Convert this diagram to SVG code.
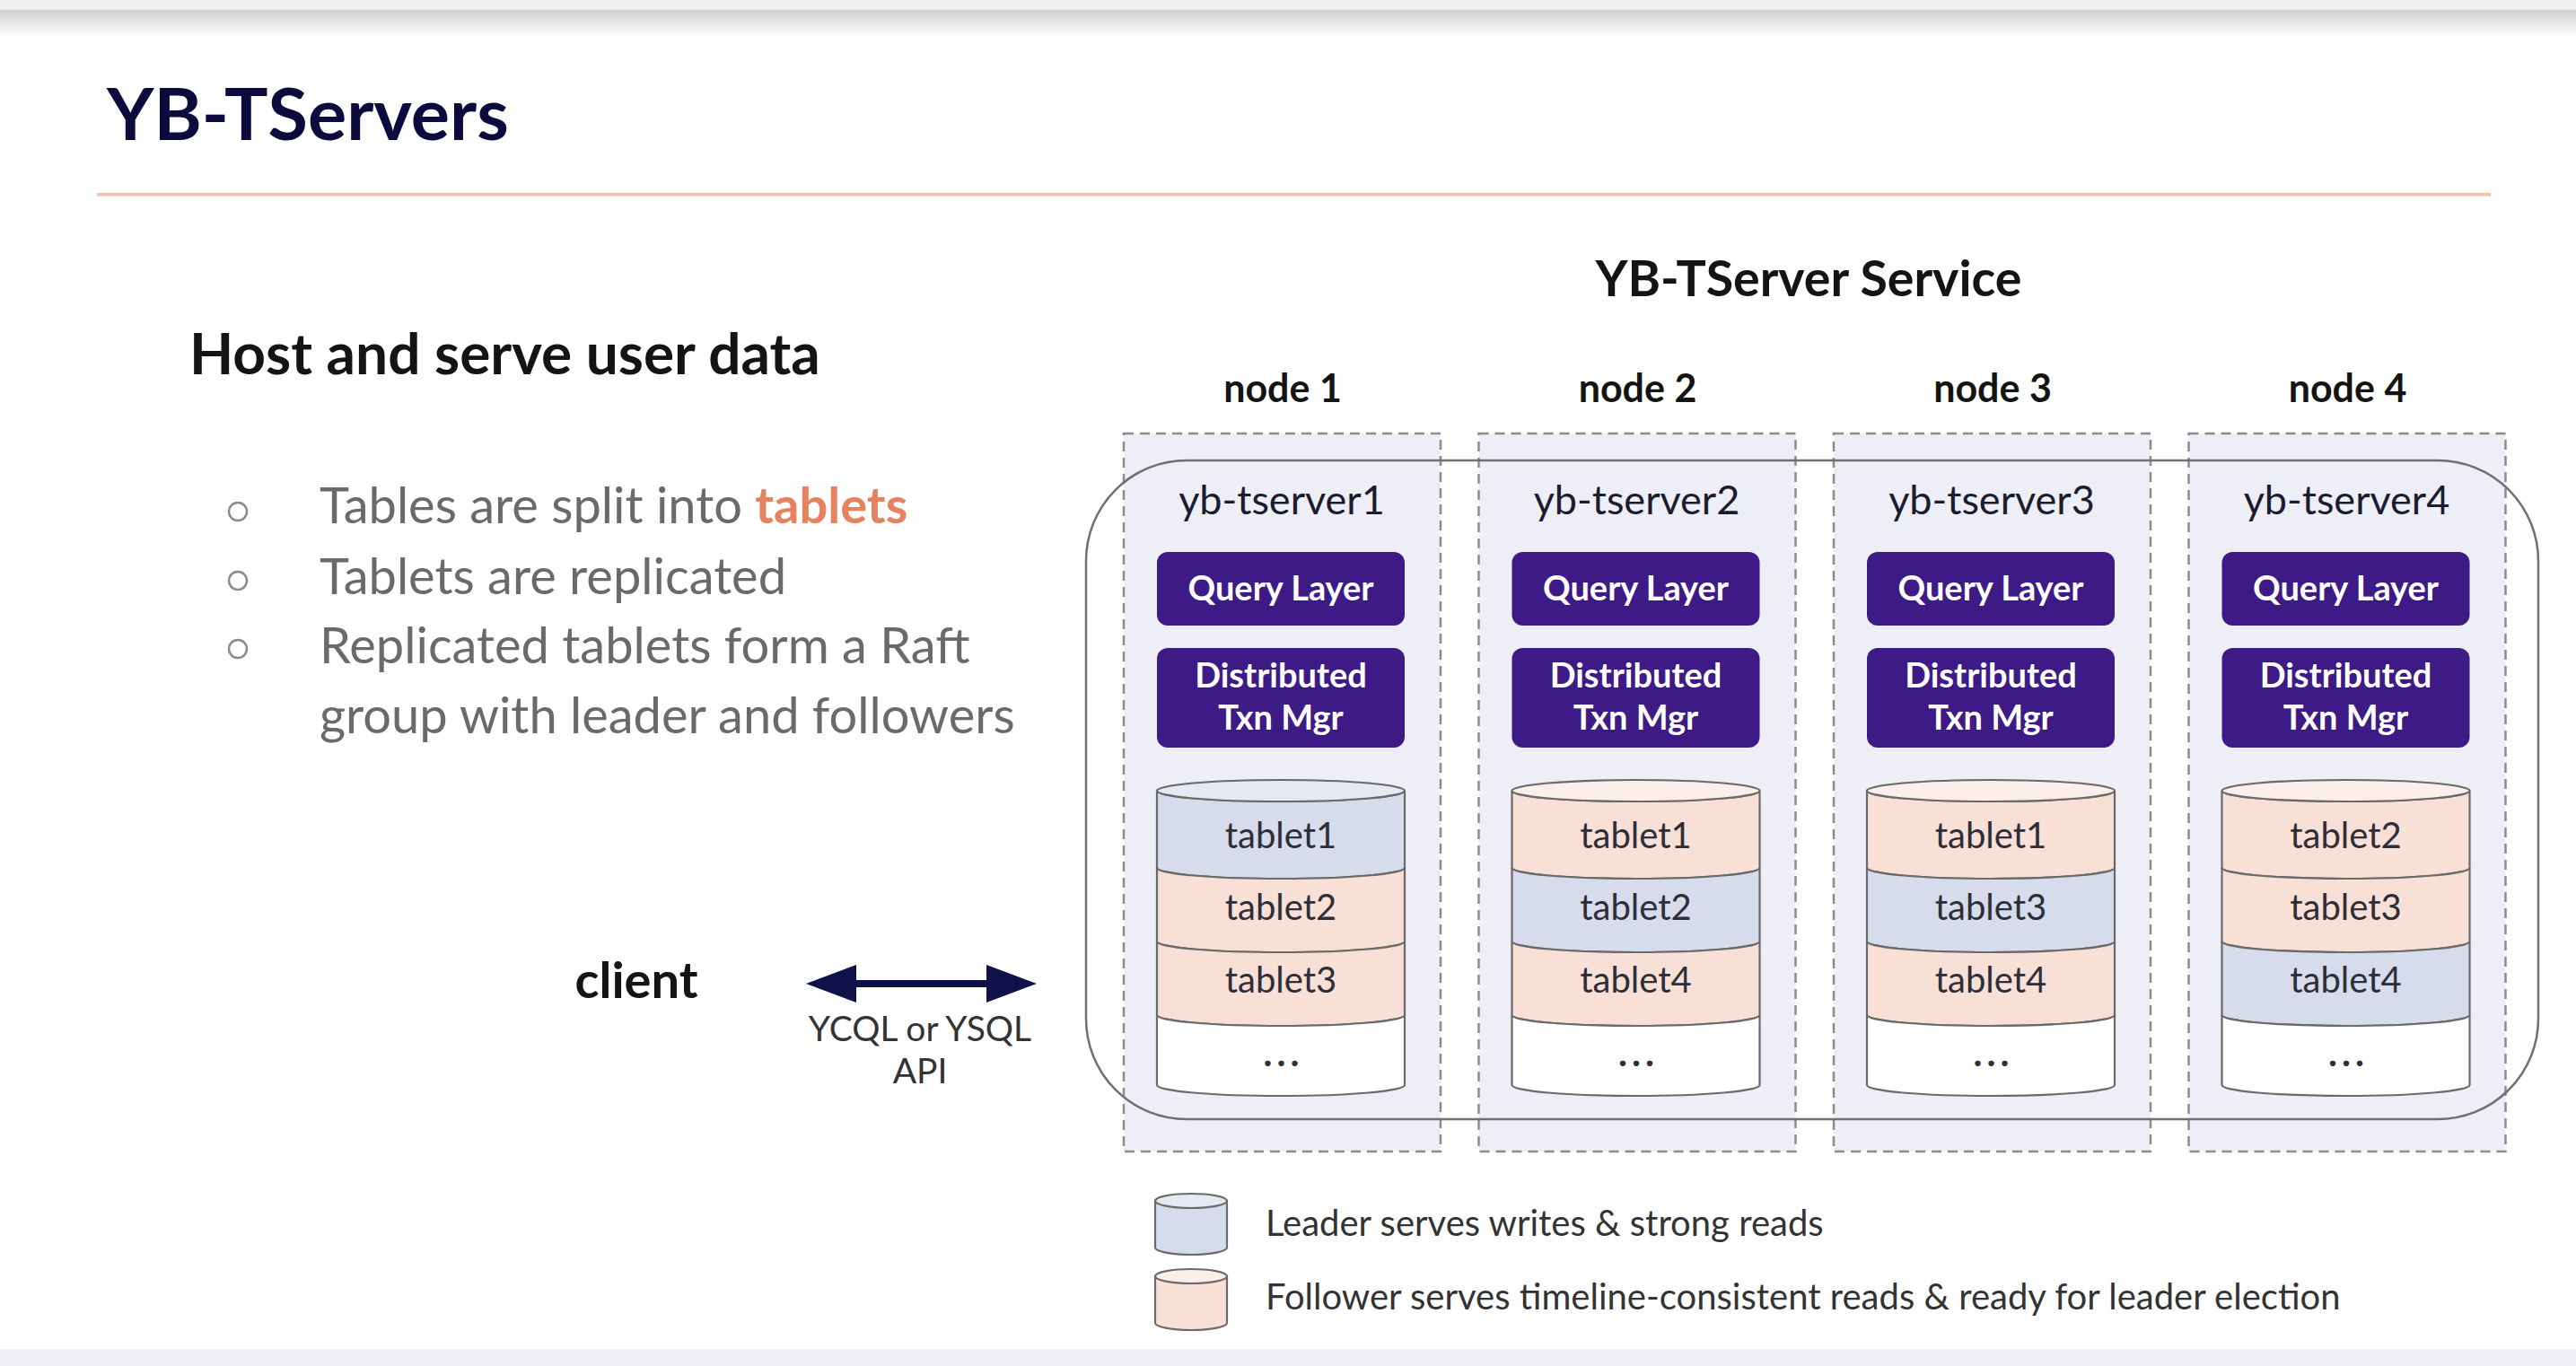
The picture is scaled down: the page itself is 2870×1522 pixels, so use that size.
<svg xmlns="http://www.w3.org/2000/svg" width="2870" height="1522" viewBox="0 0 2870 1522">
<defs>
<linearGradient id="topShadow" x1="0" y1="0" x2="0" y2="1">
<stop offset="0" stop-color="#cfcfcf"/>
<stop offset="1" stop-color="#ffffff"/>
</linearGradient>
<marker id="head" viewBox="0 0 56 42" markerUnits="userSpaceOnUse" markerWidth="56" markerHeight="42" refX="2" refY="21" orient="auto-start-reverse">
<path d="M0,0 L56,21 L0,42 Z" fill="#11114a"/>
</marker>
<style>
.f{font-family:Lato,"Liberation Sans",sans-serif}
.title{font-size:81px;font-weight:700;fill:#0c0b3d}
.h2{font-size:64px;font-weight:700;fill:#141414}
.bul{font-size:56px;fill:#6a6a6a}
.hl{fill:#e5825f;font-weight:700}
.svc{font-size:55.5px;font-weight:700;fill:#141414;text-anchor:middle}
.nlab{font-size:43px;font-weight:700;fill:#141414;text-anchor:middle}
.ts{font-size:45px;fill:#1c1c30;text-anchor:middle}
.box{fill:#3d1a85}
.btxt{font-size:38px;font-weight:700;fill:#ffffff;text-anchor:middle}
.dash{fill:#eeeef6;stroke:#8c8c8c;stroke-width:2.5;stroke-dasharray:11 7}
.cyl{stroke:#6a6a6a;stroke-width:2.2}
.L{fill:#d6dcec}
.F{fill:#f8e0d7}
.Lt{fill:#e6e9f4}
.Ft{fill:#fcefe9}
.W{fill:#ffffff}
.tt{font-size:40px;fill:#2e2e38;text-anchor:middle}
.dots{font-size:42px;font-weight:700;fill:#2e2e38;text-anchor:middle;letter-spacing:5px}
.leg{font-size:40px;fill:#333333}
.api{font-size:39px;fill:#333333;text-anchor:middle}
.client{font-size:56px;font-weight:700;fill:#141414;text-anchor:middle}
</style>
</defs>
<rect x="0" y="0" width="2870" height="1522" fill="#ffffff"/>
<rect x="0" y="0" width="2870" height="11" fill="#efefef"/>
<rect x="0" y="11" width="2870" height="30" fill="url(#topShadow)"/>
<rect x="0" y="1503" width="2870" height="19" fill="#eeeef3"/>

<g id="header">
<text class="f title" x="119" y="156">YB-TServers</text>
<rect x="108" y="215" width="2667" height="3.5" fill="#f2c2ad"/>
</g>

<g id="bullets">
<text class="f h2" x="211" y="417">Host and serve user data</text>
<circle cx="265" cy="570" r="10" fill="none" stroke="#8a8a8a" stroke-width="2.5"/>
<circle cx="265" cy="647" r="10" fill="none" stroke="#8a8a8a" stroke-width="2.5"/>
<circle cx="265" cy="723" r="10" fill="none" stroke="#8a8a8a" stroke-width="2.5"/>
<text class="f bul" x="356" y="583">Tables are split into <tspan class="hl">tablets</tspan></text>
<text class="f bul" x="356" y="662">Tablets are replicated</text>
<text class="f bul" x="356" y="739">Replicated tablets form a Raft</text>
<text class="f bul" x="356" y="817">group with leader and followers</text>
</g>

<text class="f svc" x="2015" y="330">YB-TServer Service</text>

<g id="node1">
<text class="f nlab" x="1429" y="448">node 1</text>
<rect class="dash" x="1252" y="483" width="353" height="800"/>
<text class="f ts" x="1428" y="573">yb-tserver1</text>
<rect class="box" x="1289" y="615" width="276" height="82" rx="12"/>
<text class="f btxt" x="1427" y="669">Query Layer</text>
<rect class="box" x="1289" y="722" width="276" height="111" rx="12"/>
<text class="f btxt" x="1427" y="766">Distributed</text>
<text class="f btxt" x="1427" y="813">Txn Mgr</text>
<path class="cyl L" d="M1289,881 A138,12 0 0 0 1565,881 V967 A138,12 0 0 1 1289,967 Z"/>
<path class="cyl F" d="M1289,967 A138,12 0 0 0 1565,967 V1049 A138,12 0 0 1 1289,1049 Z"/>
<path class="cyl F" d="M1289,1049 A138,12 0 0 0 1565,1049 V1131 A138,12 0 0 1 1289,1131 Z"/>
<path class="cyl W" d="M1289,1131 A138,12 0 0 0 1565,1131 V1209 A138,12 0 0 1 1289,1209 Z"/>
<ellipse class="cyl Lt" cx="1427" cy="881" rx="138" ry="12"/>
<text class="f tt" x="1427" y="945">tablet1</text>
<text class="f tt" x="1427" y="1025">tablet2</text>
<text class="f tt" x="1427" y="1106">tablet3</text>
<text class="f dots" x="1430" y="1188">...</text>
</g>

<g id="node2" transform="translate(395.5,0)">
<text class="f nlab" x="1429" y="448">node 2</text>
<rect class="dash" x="1252" y="483" width="353" height="800"/>
<text class="f ts" x="1428" y="573">yb-tserver2</text>
<rect class="box" x="1289" y="615" width="276" height="82" rx="12"/>
<text class="f btxt" x="1427" y="669">Query Layer</text>
<rect class="box" x="1289" y="722" width="276" height="111" rx="12"/>
<text class="f btxt" x="1427" y="766">Distributed</text>
<text class="f btxt" x="1427" y="813">Txn Mgr</text>
<path class="cyl F" d="M1289,881 A138,12 0 0 0 1565,881 V967 A138,12 0 0 1 1289,967 Z"/>
<path class="cyl L" d="M1289,967 A138,12 0 0 0 1565,967 V1049 A138,12 0 0 1 1289,1049 Z"/>
<path class="cyl F" d="M1289,1049 A138,12 0 0 0 1565,1049 V1131 A138,12 0 0 1 1289,1131 Z"/>
<path class="cyl W" d="M1289,1131 A138,12 0 0 0 1565,1131 V1209 A138,12 0 0 1 1289,1209 Z"/>
<ellipse class="cyl Ft" cx="1427" cy="881" rx="138" ry="12"/>
<text class="f tt" x="1427" y="945">tablet1</text>
<text class="f tt" x="1427" y="1025">tablet2</text>
<text class="f tt" x="1427" y="1106">tablet4</text>
<text class="f dots" x="1430" y="1188">...</text>
</g>

<g id="node3" transform="translate(791,0)">
<text class="f nlab" x="1429" y="448">node 3</text>
<rect class="dash" x="1252" y="483" width="353" height="800"/>
<text class="f ts" x="1428" y="573">yb-tserver3</text>
<rect class="box" x="1289" y="615" width="276" height="82" rx="12"/>
<text class="f btxt" x="1427" y="669">Query Layer</text>
<rect class="box" x="1289" y="722" width="276" height="111" rx="12"/>
<text class="f btxt" x="1427" y="766">Distributed</text>
<text class="f btxt" x="1427" y="813">Txn Mgr</text>
<path class="cyl F" d="M1289,881 A138,12 0 0 0 1565,881 V967 A138,12 0 0 1 1289,967 Z"/>
<path class="cyl L" d="M1289,967 A138,12 0 0 0 1565,967 V1049 A138,12 0 0 1 1289,1049 Z"/>
<path class="cyl F" d="M1289,1049 A138,12 0 0 0 1565,1049 V1131 A138,12 0 0 1 1289,1131 Z"/>
<path class="cyl W" d="M1289,1131 A138,12 0 0 0 1565,1131 V1209 A138,12 0 0 1 1289,1209 Z"/>
<ellipse class="cyl Ft" cx="1427" cy="881" rx="138" ry="12"/>
<text class="f tt" x="1427" y="945">tablet1</text>
<text class="f tt" x="1427" y="1025">tablet3</text>
<text class="f tt" x="1427" y="1106">tablet4</text>
<text class="f dots" x="1430" y="1188">...</text>
</g>

<g id="node4" transform="translate(1186.5,0)">
<text class="f nlab" x="1429" y="448">node 4</text>
<rect class="dash" x="1252" y="483" width="353" height="800"/>
<text class="f ts" x="1428" y="573">yb-tserver4</text>
<rect class="box" x="1289" y="615" width="276" height="82" rx="12"/>
<text class="f btxt" x="1427" y="669">Query Layer</text>
<rect class="box" x="1289" y="722" width="276" height="111" rx="12"/>
<text class="f btxt" x="1427" y="766">Distributed</text>
<text class="f btxt" x="1427" y="813">Txn Mgr</text>
<path class="cyl F" d="M1289,881 A138,12 0 0 0 1565,881 V967 A138,12 0 0 1 1289,967 Z"/>
<path class="cyl F" d="M1289,967 A138,12 0 0 0 1565,967 V1049 A138,12 0 0 1 1289,1049 Z"/>
<path class="cyl L" d="M1289,1049 A138,12 0 0 0 1565,1049 V1131 A138,12 0 0 1 1289,1131 Z"/>
<path class="cyl W" d="M1289,1131 A138,12 0 0 0 1565,1131 V1209 A138,12 0 0 1 1289,1209 Z"/>
<ellipse class="cyl Ft" cx="1427" cy="881" rx="138" ry="12"/>
<text class="f tt" x="1427" y="945">tablet2</text>
<text class="f tt" x="1427" y="1025">tablet3</text>
<text class="f tt" x="1427" y="1106">tablet4</text>
<text class="f dots" x="1430" y="1188">...</text>
</g>

<g id="service">
<rect x="1210" y="513" width="1618" height="734" rx="112" ry="112" fill="none" stroke="#707070" stroke-width="2.5"/>
</g>

<g id="client">
<text class="f client" x="709" y="1112">client</text>
</g>

<g id="connectors">
<line x1="952" y1="1096" x2="1101" y2="1096" stroke="#11114a" stroke-width="8" marker-start="url(#head)" marker-end="url(#head)"/>
<text class="f api" x="1025" y="1160">YCQL or YSQL</text>
<text class="f api" x="1025" y="1207">API</text>
</g>

<g id="legend">
<path class="cyl L" d="M1287,1338 V1390 A40,8 0 0 0 1367,1390 V1338 Z"/>
<ellipse class="cyl Lt" cx="1327" cy="1338" rx="40" ry="8"/>
<path class="cyl F" d="M1287,1422 V1474 A40,8 0 0 0 1367,1474 V1422 Z"/>
<ellipse class="cyl Ft" cx="1327" cy="1422" rx="40" ry="8"/>
<text class="f leg" x="1410" y="1377">Leader serves writes &amp; strong reads</text>
<text class="f leg" x="1410" y="1459">Follower serves timeline-consistent reads &amp; ready for leader election</text>
</g>
</svg>
